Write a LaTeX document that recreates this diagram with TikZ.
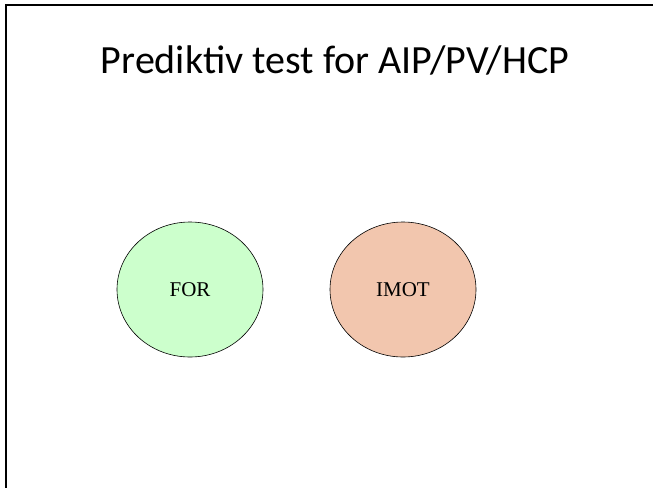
\documentclass[tikz,border=0pt]{standalone}
\usepackage{fontspec}
\setmainfont{Liberation Serif}
\newfontfamily\titlefont{Carlito}
\usetikzlibrary{shapes.geometric}
\definecolor{forgreen}{HTML}{CCFFCC}
\definecolor{imotorange}{HTML}{F2C6AE}
\tikzset{
  blob/.style={ellipse, draw=black, line width=0.6pt, minimum width=146pt, minimum height=135pt, inner sep=0pt, font=\fontsize{21}{25}\selectfont},
  frameline/.style={line width=2pt, black}
}
\begin{document}
\begin{tikzpicture}[x=1pt,y=-1pt]
\useasboundingbox (0,0) rectangle (653,488);
\coordinate (tl) at (6,5);
\coordinate (tr) at (653,5);
\coordinate (bl) at (6,488);
\draw[frameline] (tr) -- (tl) -- (bl);
\node[font=\titlefont\fontsize{40}{46}\selectfont, anchor=base] (title) at (335,73) {Prediktiv test for AIP/PV/HCP};
\node[blob, fill=forgreen] (for) at (190,289.5) {FOR};
\node[blob, fill=imotorange] (imot) at (403,289.5) {IMOT};
\end{tikzpicture}
\end{document}
